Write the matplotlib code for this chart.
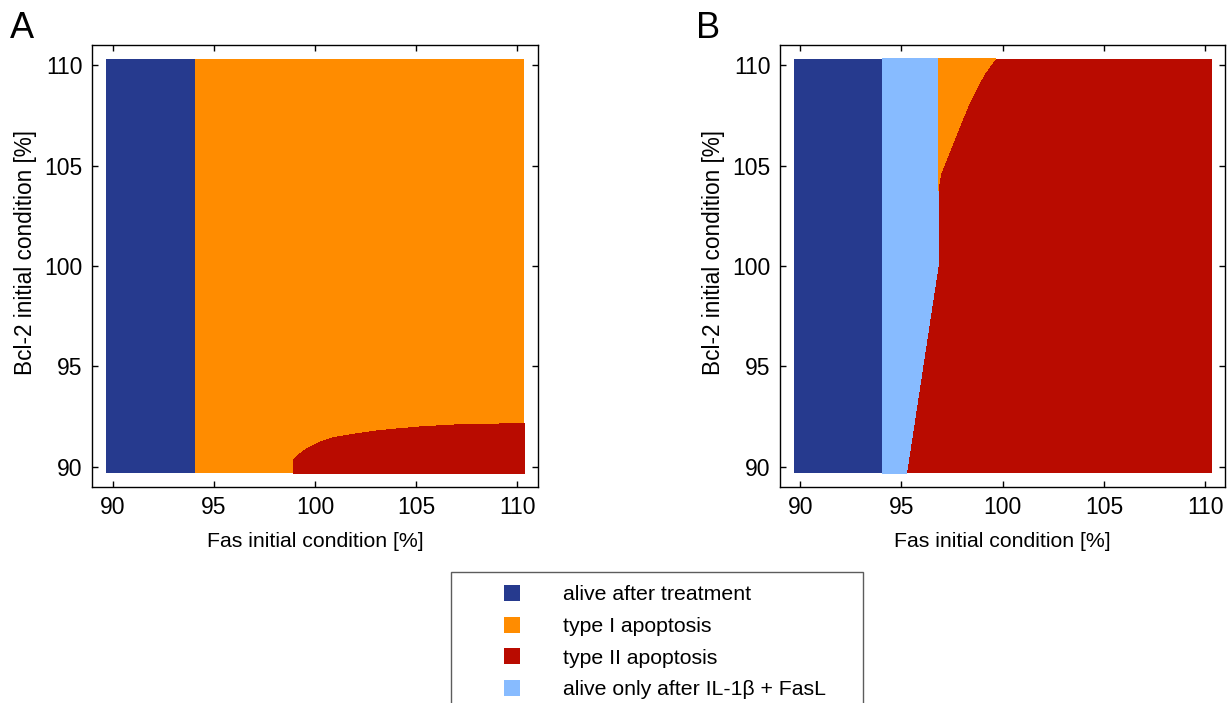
import numpy as np
import matplotlib.pyplot as plt
from matplotlib.lines import Line2D

plt.rcParams['font.family'] = ['Liberation Sans', 'DejaVu Sans']

# colours of the outcome classes
c_alive = '#263a8e'
c_type1 = '#ff8c00'
c_type2 = '#b90b00'
c_il1b = '#87bbff'

# extent of the simulated grid (Fas, Bcl-2) in %
grid_lo, grid_hi = 89.67, 110.33

# panel A: alive / type I border (Fas), type II region top edge
a_alive_fas = 94.06
a_red_fas = [98.96, 98.96, 99.29, 99.62, 100.28, 100.93, 101.59, 102.91, 103.89, 105.21, 107.35, 110.33]
a_red_bcl = [89.67, 90.33, 90.66, 90.90, 91.24, 91.44, 91.56, 91.76, 91.86, 91.98, 92.10, 92.14]

# panel B: alive border, IL-1b only region right edge, type I pocket
b_alive_fas = 94.06
b_il_fas = [95.25, 96.82, 96.82]
b_il_bcl = [89.67, 100.07, 110.33]
# orange / red border, from bottom to top
b_t1_fas = [96.82, 96.85, 96.93, 97.26, 97.59, 97.92, 98.25, 98.66, 99.07, 99.64]
b_t1_bcl = [103.78, 104.10, 104.60, 105.43, 106.25, 107.08, 107.90, 108.73, 109.55, 110.33]

ticks = [90, 95, 100, 105, 110]
labels = ['alive after treatment', 'type I apoptosis', 'type II apoptosis',
          'alive only after IL-1\u03b2 + FasL']

fig = plt.figure(figsize=(12.27, 7.03), dpi=100)
axA = fig.add_axes([0.0752, 0.3077, 0.363, 0.628])
axB = fig.add_axes([0.6357, 0.3077, 0.363, 0.628])

def style(ax):
    ax.set_xlim(89, 111)
    ax.set_ylim(89, 111)
    ax.set_xticks(ticks)
    ax.set_yticks(ticks)
    ax.tick_params(direction='in', top=True, right=True, length=4, width=1, labelsize=16.5, pad=7)
    for s in ax.spines.values():
        s.set_linewidth(1)
    ax.set_xlabel('Fas initial condition [%]', fontsize=15.3, labelpad=9)
    ax.set_ylabel('Bcl-2 initial condition [%]', fontsize=16.3, labelpad=5)
    ax.yaxis.label.set_y(0.53)

def rect(ax, x0, x1, color):
    ax.fill([x0, x1, x1, x0], [grid_lo, grid_lo, grid_hi, grid_hi], color=color, lw=0, antialiased=False)

# panel A
rect(axA, grid_lo, grid_hi, c_type1)
rect(axA, grid_lo, a_alive_fas, c_alive)
axA.fill(a_red_fas + [grid_hi], a_red_bcl + [grid_lo], color=c_type2, lw=0, antialiased=False)
style(axA)

# panel B
rect(axB, grid_lo, grid_hi, c_type2)
rect(axB, grid_lo, b_alive_fas, c_alive)
axB.fill([b_alive_fas] + b_il_fas + [b_alive_fas], [grid_lo] + b_il_bcl + [grid_hi],
         color=c_il1b, lw=0, antialiased=False)
axB.fill([b_il_fas[-1]] + b_t1_fas[::-1], [grid_hi] + b_t1_bcl[::-1],
         color=c_type1, lw=0, antialiased=False)
style(axB)

fig.text(0.008, 0.985, 'A', fontsize=26, va='top', ha='left')
fig.text(0.567, 0.985, 'B', fontsize=26, va='top', ha='left')

handles = [Line2D([], [], ls='none', marker='s', markersize=11, color=c, markeredgewidth=0)
           for c in [c_alive, c_type1, c_type2, c_il1b]]
leg = fig.legend(handles, labels, loc='upper left', bbox_to_anchor=(0.3676, 0.1863, 0.3358, 0.0),
                 mode='expand', fontsize=15.3, frameon=True, fancybox=False, edgecolor='#333333',
                 handlelength=4.45, handletextpad=0.2, borderpad=0.62, labelspacing=0.6,
                 borderaxespad=0)
leg.get_frame().set_linewidth(1)

fig.savefig('out.png', dpi=100)
